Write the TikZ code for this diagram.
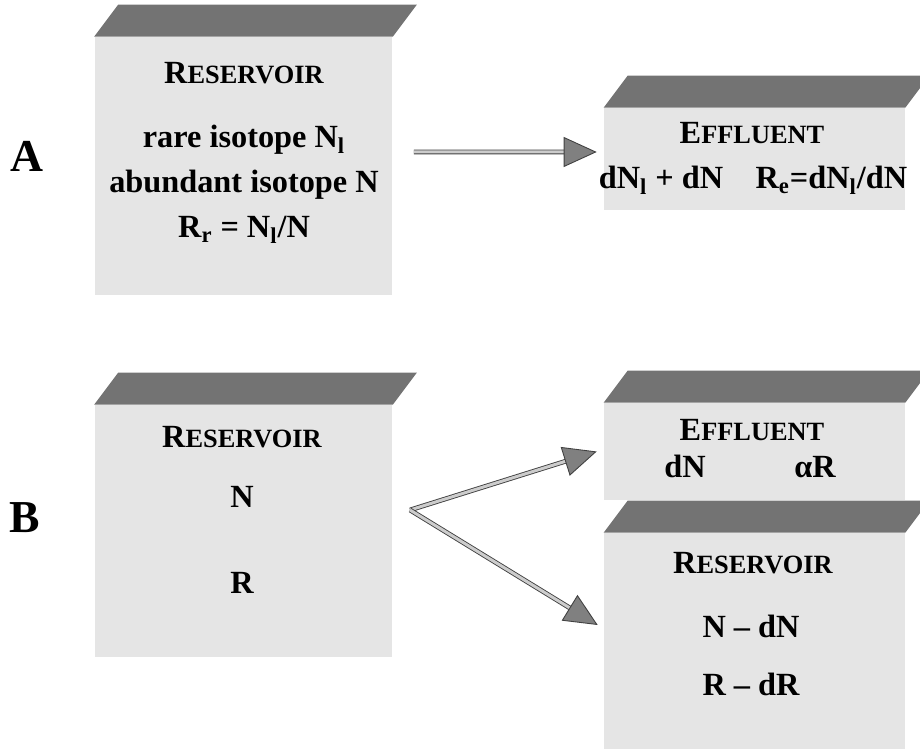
\documentclass[tikz,border=0pt]{standalone}
\usepackage{fontspec}
\setmainfont{Liberation Serif}
\usetikzlibrary{positioning, arrows.meta, calc}

% fake small caps: first letter full size, rest smaller
\newcommand{\smcaps}[2]{#1{\fontsize{15}{15}\selectfont #2}}
% dark top face of a tank
\newcommand{\lid}[1]{%
  \fill[lidfill] (#1.north west) -- ([shift={(0.48cm,0.64cm)}]#1.north west)
    -- ([shift={(0.48cm,0.64cm)}]#1.north east) -- (#1.north east) -- cycle;}

\begin{document}
\begin{tikzpicture}[x=0.02cm, y=-0.02cm,
  tank/.style={rectangle, fill=black!10, minimum width=5.96cm, inner sep=0pt},
  lidfill/.style={fill=black!55},
  txt/.style={anchor=base, inner sep=0pt, font=\fontsize{18.4}{22}\selectfont\bfseries},
  tag/.style={anchor=base, inner sep=0pt, font=\fontsize{26}{30}\selectfont\bfseries},
  flow/.style={draw=black!75, line width=0.5pt, double=black!20, double distance=0.06cm,
    -{Triangle[length=0.66cm, width=0.6cm, fill=black!50]}}]
  \useasboundingbox (0,0) rectangle (920,749);

  % tanks
  \node[tank, minimum height=5.16cm] (resA) at (243.5,166) {};
  \node[tank, minimum width=6.02cm, minimum height=2.04cm] (effA) at (754.5,159) {};
  \node[tank, minimum height=5.04cm] (resB) at (243.5,531) {};
  \node[tank, minimum width=6.02cm, minimum height=1.94cm] (effB) at (754.5,451.5) {};
  \node[tank, minimum width=6.02cm, minimum height=4.32cm] (resBB) at (754.5,641) {};
  \lid{resA}
  \lid{effA}
  \lid{resB}
  \lid{effB}
  \lid{resBB}

  % panel A
  \node[tag] (tagA) at (27,172) {A};
  \node[txt] (resAhead) at (244,84) {\smcaps{R}{ESERVOIR}};
  \node[txt] (resArare) at (244,148) {rare isotope N\textsubscript{l}};
  \node[txt] (resAabun) at (244,193) {abundant isotope N};
  \node[txt] (resAratio) at (244,238) {R\textsubscript{r} = N\textsubscript{l}/N};
  \node[txt] (effAhead) at (752,144) {\smcaps{E}{FFLUENT}};
  \node[txt] (effAflux) at (753,189) {dN\textsubscript{l} + dN\enspace\enspace R\textsubscript{e}=dN\textsubscript{l}/dN};

  % panel B
  \node[tag] (tagB) at (25,533) {B};
  \node[txt] (resBhead) at (242,448) {\smcaps{R}{ESERVOIR}};
  \node[txt] (resBN) at (242,508) {N};
  \node[txt] (resBR) at (242,594) {R};
  \node[txt] (effBhead) at (752,441) {\smcaps{E}{FFLUENT}};
  \node[txt] (effBdN) at (685,478) {dN};
  \node[txt] (effBaR) at (815,478) {αR};
  \node[txt] (resBBhead) at (753,574) {\smcaps{R}{ESERVOIR}};
  \node[txt] (resBBN) at (751,638) {N -- dN};
  \node[txt] (resBBR) at (751,696) {R -- dR};

  % arrows
  \draw[flow] ([xshift=0.42cm,yshift=0.28cm]resA.east) -- ([xshift=-0.14cm,yshift=0.14cm]effA.west);
  \coordinate (fork) at (410,510);
  \draw[flow] (fork) -- ([xshift=-0.14cm]effB.west);
  \draw[flow] (fork) -- ([xshift=-0.12cm,yshift=0.32cm]resBB.west);
\end{tikzpicture}
\end{document}
